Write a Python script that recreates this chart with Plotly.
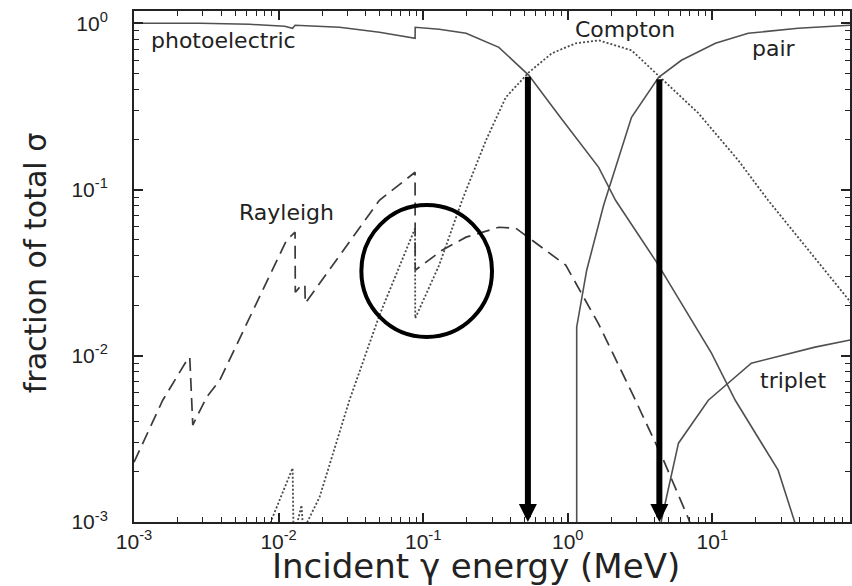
import math
import plotly.graph_objects as go

# ---------------- data ----------------
photo_E = [0.001, 0.00285, 0.0063, 0.011, 0.0125, 0.013, 0.0264, 0.0498, 0.0879, 0.0881,
           0.129, 0.198, 0.334, 0.538, 0.867, 1.636, 2.14, 4.11, 9.84, 14.4, 28.5, 37.4, 45.9]
photo_f = [1.0, 1.0, 0.986, 0.959, 0.933, 0.973, 0.946, 0.883, 0.813, 0.946,
           0.92, 0.871, 0.717, 0.486, 0.280, 0.136, 0.0862, 0.0366, 0.0104, 0.0054, 0.00205, 0.00098, 0.0008]

compton_E = [0.0080, 0.0091, 0.0125, 0.0127, 0.0144, 0.0149, 0.0158, 0.0192, 0.0309, 0.0498,
             0.0879, 0.0881, 0.129, 0.186, 0.272, 0.373, 0.538, 0.776, 1.135, 1.636, 2.76,
             4.31, 8.0, 15.1, 24.3, 88.1, 100.0]
compton_f = [0.0008, 0.00107, 0.00211, 0.0008, 0.00126, 0.0008, 0.0010, 0.00141, 0.0054, 0.0175,
             0.0585, 0.0168, 0.0351, 0.0862, 0.198, 0.359, 0.507, 0.66, 0.758, 0.79, 0.688,
             0.48, 0.288, 0.150, 0.0862, 0.0216, 0.018]

rayleigh_E = [0.001, 0.00158, 0.00232, 0.00243, 0.00255, 0.00318, 0.00392, 0.0063, 0.01135, 0.0130,
              0.01305, 0.0144, 0.0152, 0.0153, 0.0498, 0.0879, 0.0881, 0.135, 0.198, 0.334,
              0.438, 0.565, 0.968, 1.636, 2.94, 4.59, 6.83, 7.6]
rayleigh_f = [0.00229, 0.0054, 0.0094, 0.0098, 0.00383, 0.00564, 0.00713, 0.0171, 0.0496, 0.0554,
              0.0241, 0.0266, 0.0266, 0.0207, 0.0862, 0.127, 0.0327, 0.0431, 0.0517, 0.0593,
              0.0585, 0.0496, 0.0351, 0.0155, 0.0054, 0.00236, 0.00105, 0.0008]

pair_E = [1.153, 1.153, 1.352, 1.77, 2.76, 4.25, 6.11, 10.5, 17.7, 39.2, 89.5, 100.0]
pair_f = [0.0008, 0.0149, 0.0327, 0.0805, 0.272, 0.473, 0.599, 0.758, 0.871, 0.933, 0.973, 0.975]

triplet_E = [4.25, 4.45, 5.83, 9.38, 18.6, 51.3, 88.1, 100.0]
triplet_f = [0.0008, 0.00103, 0.00298, 0.0054, 0.00902, 0.01127, 0.0124, 0.0126]

# crossing points marked with arrows (energy, fraction at top of arrow)
arrow_E = [0.53, 4.3]
arrow_top = [0.487, 0.47]

# curve labels: (text, energy, fraction)
label_text = ["photoelectric", "Compton", "pair", "Rayleigh", "triplet"]
label_E = [0.00418, 2.5, 26.8, 0.01135, 36.2]
label_f = [0.79, 0.92, 0.708, 0.073, 0.00713]

# axis ticks
x_tickvals = [1e-3, 1e-2, 1e-1, 1e0, 1e1]
x_ticktext = ["10<sup>-3</sup>", "10<sup>-2</sup>", "10<sup>-1</sup>", "10<sup>0</sup>", "10<sup>1</sup>"]
y_tickvals = [1e-3, 1e-2, 1e-1, 1e0]
y_ticktext = ["10<sup>-3</sup>", "10<sup>-2</sup>", "10<sup>-1</sup>", "10<sup>0</sup>"]

# ---------------- figure ----------------
fig = go.Figure()
fig.add_trace(go.Scatter(x=photo_E, y=photo_f, mode="lines",
                         line=dict(color="#505050", width=1.6), showlegend=False))
fig.add_trace(go.Scatter(x=compton_E, y=compton_f, mode="lines",
                         line=dict(color="#4a4a4a", width=1.8, dash="2px,2px"), showlegend=False))
fig.add_trace(go.Scatter(x=rayleigh_E, y=rayleigh_f, mode="lines",
                         line=dict(color="#3a3a3a", width=1.7, dash="13px,7px"), showlegend=False))
fig.add_trace(go.Scatter(x=pair_E, y=pair_f, mode="lines",
                         line=dict(color="#505050", width=1.6), showlegend=False))
fig.add_trace(go.Scatter(x=triplet_E, y=triplet_f, mode="lines",
                         line=dict(color="#505050", width=1.6), showlegend=False))

annotations = []
for t, e, f in zip(label_text, label_E, label_f):
    annotations.append(dict(x=math.log10(e), y=math.log10(f), xref="x", yref="y", text=t,
                            showarrow=False, xanchor="center", yanchor="middle",
                            font=dict(family="DejaVu Sans", size=22, color="#222222")))
for e, top in zip(arrow_E, arrow_top):
    annotations.append(dict(x=math.log10(e), y=-3.0, xref="x", yref="y",
                            ax=math.log10(e), ay=math.log10(top), axref="x", ayref="y",
                            text="", showarrow=True, arrowhead=2, arrowsize=0.6,
                            arrowwidth=6, arrowcolor="black", standoff=0))
# axis titles
annotations.append(dict(x=(477 - 134) / 718, y=-0.087, xref="paper", yref="paper",
                        text="Incident \u03b3 energy (MeV)", showarrow=False,
                        xanchor="center", yanchor="middle",
                        font=dict(family="DejaVu Sans", size=34, color="#222222")))
annotations.append(dict(x=-0.138, y=(522 - 263) / 511, xref="paper", yref="paper",
                        text="fraction of total \u03c3", showarrow=False, textangle=-90,
                        xanchor="center", yanchor="middle",
                        font=dict(family="DejaVu Sans", size=30, color="#222222")))

axis_common = dict(showline=True, linecolor="#222222", linewidth=2, mirror="ticks",
                   ticks="inside", ticklen=9, tickwidth=1.6, tickcolor="#222222",
                   showgrid=False, zeroline=False,
                   minor=dict(dtick="D1", ticks="inside", ticklen=5, tickwidth=1.4,
                              tickcolor="#222222", showgrid=False),
                   tickfont=dict(family="Liberation Sans, Arial", size=21, color="#222222"))

fig.update_layout(
    width=852, height=586,
    margin=dict(l=134, r=0, t=11, b=64),
    paper_bgcolor="white", plot_bgcolor="white",
    xaxis=dict(type="log", range=[-3, 1.952], tickmode="array",
               tickvals=x_tickvals, ticktext=x_ticktext, **axis_common),
    yaxis=dict(type="log", range=[-3, 0.074], tickmode="array",
               tickvals=y_tickvals, ticktext=y_ticktext, ticklabelstandoff=20,
               **axis_common),
    annotations=annotations,
    shapes=[dict(type="circle", xref="paper", yref="paper",
                 x0=(362 - 134) / 718, x1=(493 - 134) / 718,
                 y0=(522 - 337) / 511, y1=(522 - 205) / 511,
                 line=dict(color="black", width=4))],
)

fig.write_html("out.html")
